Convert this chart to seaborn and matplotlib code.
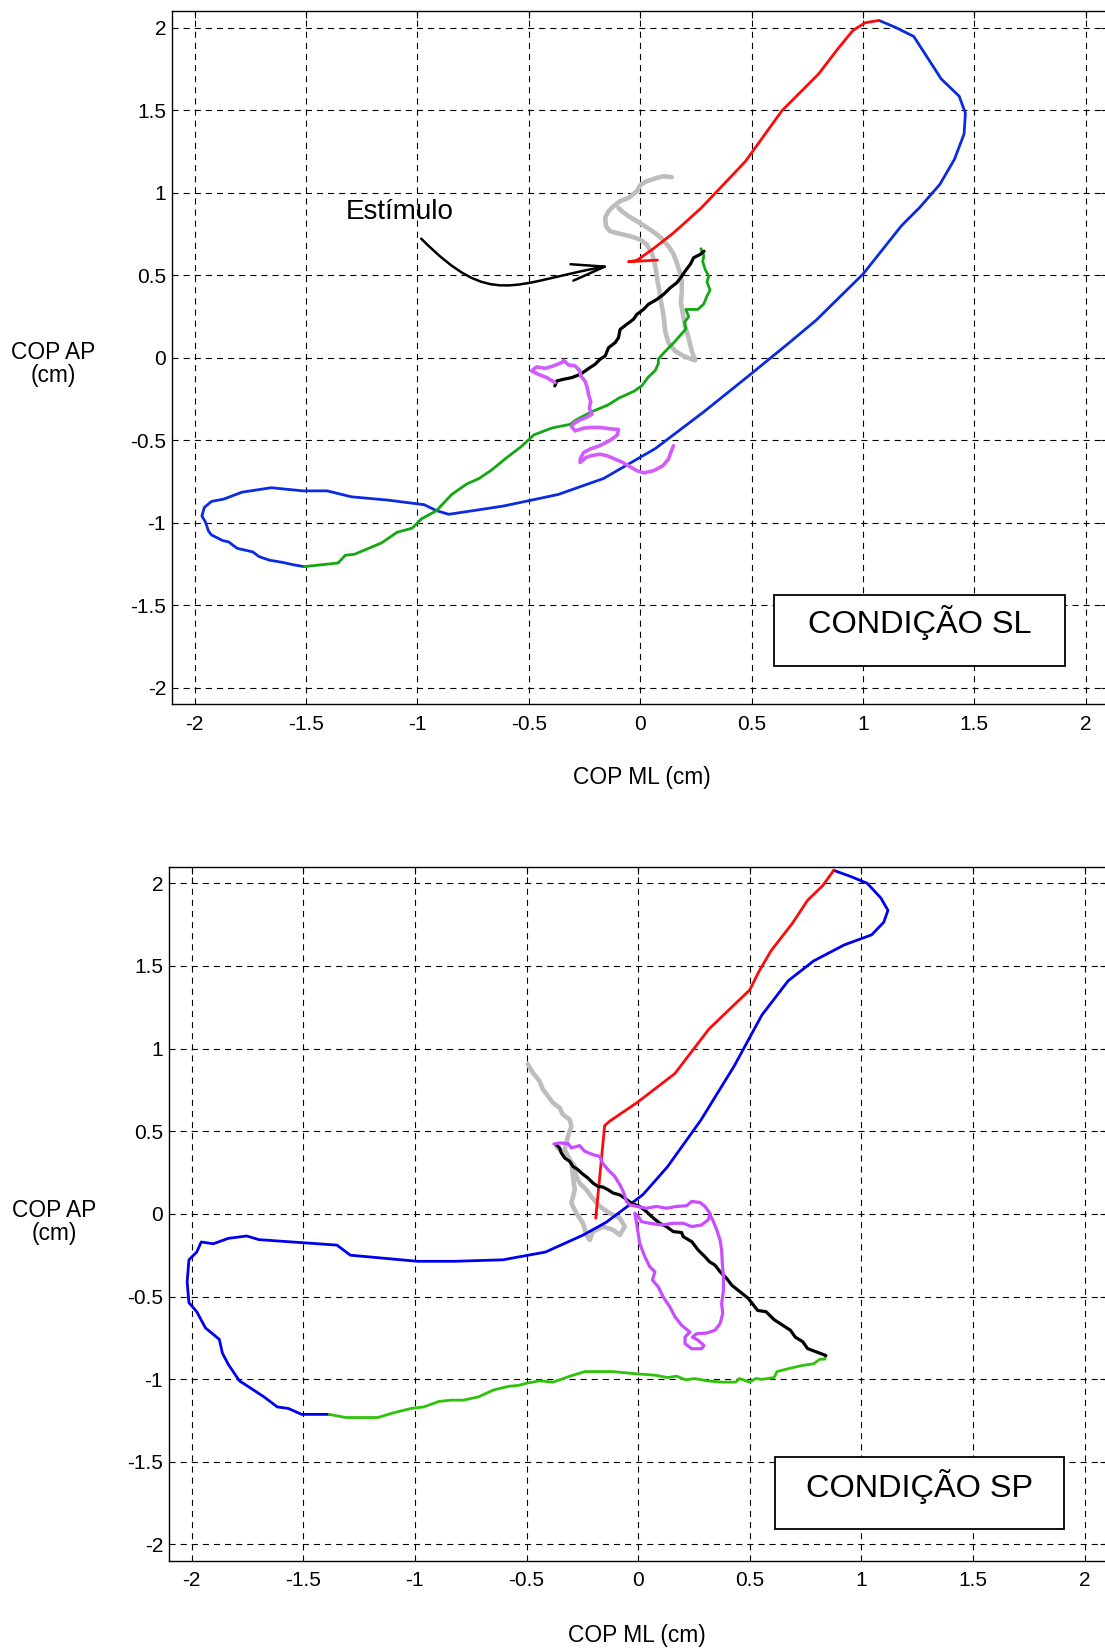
import numpy as np
import pandas as pd
import matplotlib
matplotlib.use("Agg")
import matplotlib.pyplot as plt
from matplotlib.patches import Rectangle, FancyArrowPatch
from matplotlib.path import Path
import seaborn as sns

# ---------------- data: top panel (CONDIÇÃO SL) ----------------
sl_gray_x = [0.142, 0.105, 0.075, 0.030, 0.0, -0.015, -0.052, -0.090, -0.120, -0.142, -0.157, -0.153,
             -0.135, -0.090, -0.045, 0.0, 0.030, 0.052, 0.063, 0.072, 0.078, 0.087, 0.093, 0.102, 0.108,
             0.112, 0.127, 0.157, 0.195, 0.232, 0.247, 0.232, 0.217, 0.202, 0.192, 0.183, 0.187, 0.187,
             0.177, 0.162, 0.147, 0.127, 0.097, 0.060, 0.022, -0.015, -0.052, -0.082, -0.097]
sl_gray_y = [1.093, 1.099, 1.089, 1.069, 1.044, 1.008, 0.968, 0.948, 0.917, 0.887, 0.847, 0.796,
             0.766, 0.750, 0.736, 0.716, 0.685, 0.635, 0.585, 0.524, 0.464, 0.403, 0.343, 0.282, 0.222,
             0.161, 0.091, 0.040, 0.010, -0.010, -0.016, 0.040, 0.121, 0.192, 0.262, 0.333, 0.403, 0.464,
             0.524, 0.585, 0.635, 0.675, 0.722, 0.762, 0.796, 0.827, 0.857, 0.887, 0.907]

sl_red_x = [0.078, -0.052, -0.015, 0.060, 0.150, 0.273, 0.472, 0.636, 0.800, 0.887, 0.955, 1.010, 1.072]
sl_red_y = [0.591, 0.581, 0.589, 0.661, 0.756, 0.905, 1.188, 1.495, 1.717, 1.870, 1.982, 2.029, 2.043]

sl_blue_x = [1.072, 1.146, 1.228, 1.291, 1.351, 1.432, 1.460, 1.454, 1.411, 1.345, 1.255, 1.173, 1.001,
             0.791, 0.668, 0.491, 0.286, 0.068, -0.164, -0.368, -0.614, -0.750, -0.859, -0.914, -0.969,
             -1.132, -1.296, -1.405, -1.514, -1.656, -1.787, -1.869, -1.924, -1.956, -1.967, -1.951,
             -1.937, -1.924, -1.874, -1.847, -1.809, -1.738, -1.711, -1.664, -1.610, -1.555, -1.509]
sl_blue_y = [2.043, 2.001, 1.946, 1.815, 1.689, 1.584, 1.481, 1.355, 1.202, 1.049, 0.910, 0.799, 0.507,
             0.228, 0.089, -0.106, -0.328, -0.551, -0.732, -0.829, -0.899, -0.927, -0.949, -0.927, -0.891,
             -0.863, -0.843, -0.807, -0.807, -0.788, -0.815, -0.857, -0.871, -0.907, -0.960, -0.996,
             -1.052, -1.074, -1.108, -1.116, -1.155, -1.177, -1.205, -1.227, -1.239, -1.255, -1.266]

sl_green_x = [-1.509, -1.356, -1.323, -1.282, -1.160, -1.091, -1.023, -0.982, -0.914, -0.846, -0.778,
              -0.723, -0.668, -0.600, -0.532, -0.477, -0.396, -0.314, -0.286, -0.218, -0.145, -0.095,
              -0.027, 0.008, 0.035, 0.068, 0.082, 0.082, 0.109, 0.150, 0.205, 0.199, 0.218, 0.205, 0.259,
              0.286, 0.300, 0.314, 0.300, 0.308, 0.292, 0.281, 0.286, 0.273]
sl_green_y = [-1.266, -1.244, -1.197, -1.191, -1.122, -1.058, -1.033, -0.977, -0.927, -0.829, -0.765,
              -0.732, -0.682, -0.607, -0.537, -0.468, -0.426, -0.404, -0.376, -0.328, -0.287, -0.245,
              -0.203, -0.170, -0.120, -0.078, -0.036, -0.008, 0.033, 0.089, 0.173, 0.214, 0.248, 0.292,
              0.292, 0.326, 0.373, 0.409, 0.459, 0.493, 0.534, 0.582, 0.618, 0.660]

sl_black_x = [0.287, 0.269, 0.240, 0.225, 0.202, 0.187, 0.165, 0.135, 0.105, 0.075, 0.037, 0.015,
              -0.015, -0.030, -0.060, -0.090, -0.097, -0.112, -0.142, -0.157, -0.180, -0.202, -0.225,
              -0.247, -0.269, -0.307, -0.344, -0.374, -0.383]
sl_black_y = [0.645, 0.625, 0.605, 0.565, 0.524, 0.494, 0.454, 0.423, 0.383, 0.353, 0.323, 0.292,
              0.262, 0.232, 0.202, 0.171, 0.121, 0.091, 0.060, 0.010, -0.010, -0.040, -0.060,
              -0.081, -0.101, -0.121, -0.131, -0.141, -0.171]

sl_magenta_x = [-0.382, -0.419, -0.457, -0.487, -0.464, -0.427, -0.389, -0.352, -0.344, -0.322, -0.292,
                -0.272, -0.266, -0.246, -0.237, -0.231, -0.222, -0.228, -0.216, -0.243, -0.272, -0.296,
                -0.308, -0.292, -0.254, -0.217, -0.180, -0.135, -0.097, -0.102, -0.127, -0.153, -0.183,
                -0.225, -0.254, -0.269, -0.269, -0.243, -0.217, -0.180, -0.147, -0.112, -0.078, -0.045,
                -0.015, 0.018, 0.060, 0.102, 0.127, 0.139, 0.150]
sl_magenta_y = [-0.151, -0.121, -0.101, -0.081, -0.056, -0.065, -0.050, -0.030, -0.016, -0.044, -0.050,
                -0.077, -0.111, -0.145, -0.185, -0.226, -0.266, -0.306, -0.343, -0.363, -0.379, -0.397,
                -0.417, -0.444, -0.427, -0.423, -0.423, -0.431, -0.435, -0.468, -0.494, -0.514, -0.534,
                -0.554, -0.575, -0.615, -0.635, -0.605, -0.593, -0.585, -0.595, -0.615, -0.635, -0.661,
                -0.685, -0.698, -0.685, -0.655, -0.615, -0.569, -0.534]

# ---------------- data: bottom panel (CONDIÇÃO SP) ----------------
sp_gray_x = [-0.494, -0.472, -0.442, -0.427, -0.404, -0.382, -0.352, -0.337, -0.307, -0.299, -0.314,
             -0.329, -0.299, -0.292, -0.284, -0.299, -0.277, -0.247, -0.232, -0.217, -0.202, -0.157,
             -0.112, -0.082, -0.060, -0.082, -0.127, -0.172, -0.210, -0.232, -0.262, -0.277, -0.284,
             -0.307, -0.329, -0.352, -0.367]
sp_gray_y = [0.905, 0.854, 0.804, 0.753, 0.713, 0.672, 0.642, 0.601, 0.571, 0.530, 0.470,
             0.389, 0.308, 0.227, 0.146, 0.065, 0.004, -0.057, -0.128, -0.158, -0.107, -0.077,
             -0.097, -0.128, -0.077, -0.026, 0.004, 0.045, 0.105, 0.146, 0.186, 0.227, 0.288,
             0.328, 0.368, 0.389, 0.409]

sp_red_x = [-0.190, -0.150, -0.127, -0.005, 0.164, 0.317, 0.500, 0.541, 0.595, 0.691, 0.759, 0.827, 0.876]
sp_red_y = [-0.026, 0.534, 0.561, 0.673, 0.848, 1.118, 1.355, 1.466, 1.591, 1.758, 1.897, 1.986, 2.078]

sp_blue_x = [0.876, 0.950, 1.026, 1.087, 1.119, 1.100, 1.046, 0.923, 0.786, 0.672, 0.554, 0.431, 0.281,
             0.131, 0.022, -0.060, -0.142, -0.246, -0.415, -0.606, -0.824, -0.988, -1.289, -1.349,
             -1.698, -1.753, -1.835, -1.903, -1.957, -1.977, -2.012, -2.020, -2.012, -1.977, -1.938,
             -1.876, -1.862, -1.835, -1.786, -1.739, -1.676, -1.616, -1.567, -1.507, -1.384]
sp_blue_y = [2.078, 2.042, 2.000, 1.911, 1.836, 1.764, 1.688, 1.627, 1.530, 1.410, 1.202, 0.896, 0.567,
             0.284, 0.117, 0.033, -0.050, -0.128, -0.231, -0.278, -0.287, -0.287, -0.250, -0.189,
             -0.156, -0.134, -0.148, -0.181, -0.170, -0.231, -0.278, -0.412, -0.537, -0.592, -0.690,
             -0.759, -0.843, -0.912, -1.010, -1.051, -1.107, -1.168, -1.177, -1.213, -1.213]

sp_green_x = [-1.384, -1.310, -1.166, -1.097, -1.016, -0.961, -0.893, -0.838, -0.784, -0.715, -0.647,
              -0.579, -0.538, -0.497, -0.442, -0.382, -0.306, -0.238, -0.115, -0.005, 0.076, 0.131,
              0.172, 0.213, 0.254, 0.308, 0.377, 0.437, 0.453, 0.500, 0.527, 0.554, 0.609, 0.622,
              0.677, 0.732, 0.786, 0.814, 0.835, 0.841]
sp_green_y = [-1.213, -1.232, -1.232, -1.204, -1.177, -1.168, -1.135, -1.127, -1.127, -1.107, -1.065,
              -1.043, -1.038, -1.024, -1.010, -1.018, -0.982, -0.954, -0.954, -0.968, -0.976, -0.990,
              -0.982, -1.004, -0.996, -1.010, -1.018, -1.018, -0.996, -1.018, -0.996, -1.001, -0.990,
              -0.954, -0.935, -0.918, -0.907, -0.879, -0.879, -0.857]

sp_black_x = [0.841, 0.814, 0.759, 0.737, 0.704, 0.682, 0.650, 0.609, 0.573, 0.535, 0.494, 0.457,
              0.419, 0.397, 0.367, 0.344, 0.319, 0.299, 0.269, 0.240, 0.202, 0.195, 0.157, 0.127,
              0.097, 0.060, 0.037, 0.007, -0.030, -0.060, -0.082, -0.112, -0.135, -0.157, -0.180,
              -0.202, -0.225, -0.254, -0.269, -0.292, -0.307, -0.329, -0.344, -0.352, -0.367]
sp_black_y = [-0.857, -0.843, -0.815, -0.773, -0.746, -0.704, -0.676, -0.640, -0.592, -0.584, -0.512,
              -0.472, -0.431, -0.391, -0.350, -0.310, -0.289, -0.259, -0.219, -0.168, -0.138, -0.113,
              -0.107, -0.077, -0.057, -0.016, 0.014, 0.045, 0.065, 0.095, 0.115, 0.126, 0.146,
              0.162, 0.166, 0.186, 0.217, 0.247, 0.267, 0.287, 0.318, 0.338, 0.368, 0.399, 0.419]

sp_magenta_x = [-0.377, -0.352, -0.314, -0.299, -0.262, -0.240, -0.202, -0.172, -0.160, -0.135, -0.105,
                -0.082, -0.067, -0.052, -0.037, -0.007, 0.037, 0.082, 0.127, 0.172, 0.217, 0.240,
                0.277, 0.299, 0.322, 0.314, 0.284, 0.240, 0.202, 0.157, 0.105, 0.052, 0.015, 0.0,
                -0.015, -0.007, 0.0, 0.007, 0.030, 0.052, 0.075, 0.064, 0.090, 0.112, 0.142, 0.165,
                0.195, 0.232, 0.210, 0.210, 0.240, 0.284, 0.295, 0.269, 0.243, 0.262, 0.307, 0.344,
                0.367, 0.379, 0.374, 0.382, 0.382, 0.377, 0.374, 0.367, 0.352, 0.337, 0.322]
sp_magenta_y = [0.423, 0.429, 0.425, 0.399, 0.413, 0.379, 0.358, 0.348, 0.308, 0.267, 0.227,
                0.176, 0.136, 0.075, 0.055, 0.045, 0.034, 0.045, 0.034, 0.045, 0.049, 0.075,
                0.069, 0.045, 0.004, -0.036, -0.067, -0.077, -0.057, -0.057, -0.067, -0.057, -0.047, -0.016,
                0.004, -0.057, -0.117, -0.178, -0.259, -0.320, -0.350, -0.401, -0.441, -0.502, -0.563, -0.623,
                -0.674, -0.715, -0.745, -0.785, -0.816, -0.816, -0.796, -0.765, -0.745, -0.725, -0.721, -0.704,
                -0.664, -0.603, -0.543, -0.462, -0.381, -0.300, -0.219, -0.158, -0.097, -0.047, -0.006]

tick_values = [-2, -1.5, -1, -0.5, 0, 0.5, 1, 1.5, 2]
tick_labels = ["-2", "-1.5", "-1", "-0.5", "0", "0.5", "1", "1.5", "2"]

x_label = "COP ML (cm)"
y_label = "COP AP\n(cm)"
panel_titles = ["CONDIÇÃO SL", "CONDIÇÃO SP"]
stimulus_label = "Estímulo"

# ---------------- styling ----------------
sns.set_theme(style="white")
plt.rcParams["font.family"] = ["Liberation Sans", "DejaVu Sans"]
plt.rcParams["axes.unicode_minus"] = False

fig = plt.figure(figsize=(11.05, 16.52), dpi=100)
ax_top = fig.add_axes([0.1559, 0.57367, 0.8468, 0.41967])
ax_bot = fig.add_axes([0.1532, 0.05508, 0.8486, 0.42027])

colors_top = {"gray": "#bdbdbd", "blue": "#0a2be0", "red": "#ff0a0a",
              "green": "#13a813", "black": "#000000", "magenta": "#d35cff"}
colors_bot = {"gray": "#bdbdbd", "blue": "#0000f0", "red": "#ff0a0a",
              "green": "#2ec30a", "black": "#000000", "magenta": "#c84dff"}


def draw_path(ax, xs, ys, color, lw=2.0):
    df = pd.DataFrame({"x": xs, "y": ys})
    sns.lineplot(data=df, x="x", y="y", sort=False, estimator=None, color=color,
                 linewidth=lw, ax=ax, zorder=3)


def style_axes(ax):
    ax.set_xlim(-2.1, 2.1)
    ax.set_ylim(-2.1, 2.1)
    ax.set_xticks(tick_values)
    ax.set_xticklabels(tick_labels)
    ax.set_yticks(tick_values)
    ax.set_yticklabels(tick_labels)
    ax.tick_params(axis="both", direction="in", length=5, width=0.8, color="black",
                   labelsize=15, labelcolor="black", top=True, right=True)
    ax.tick_params(axis="x", pad=7.5)
    ax.tick_params(axis="y", pad=4.5)
    ax.grid(True, color="black", linestyle=(0, (5.5, 4.5)), linewidth=0.8, zorder=0)
    ax.set_axisbelow(True)
    for sp in ax.spines.values():
        sp.set_visible(True)
        sp.set_color("black")
        sp.set_linewidth(1.0)
    ax.set_xlabel(x_label, fontsize=16.4, color="black")
    ax.set_ylabel(y_label, fontsize=16.4, color="black", rotation=0,
                  ha="center", va="center", multialignment="center", linespacing=1.0)


# top panel
draw_path(ax_top, sl_gray_x, sl_gray_y, colors_top["gray"], lw=3.3)
draw_path(ax_top, sl_blue_x, sl_blue_y, colors_top["blue"])
draw_path(ax_top, sl_red_x, sl_red_y, colors_top["red"])
draw_path(ax_top, sl_green_x, sl_green_y, colors_top["green"])
draw_path(ax_top, sl_black_x, sl_black_y, colors_top["black"], lw=2.3)
draw_path(ax_top, sl_magenta_x, sl_magenta_y, colors_top["magenta"], lw=2.6)
style_axes(ax_top)
ax_top.xaxis.set_label_coords(0.5017, -0.1059)
ax_top.xaxis.label.set_va("center")
ax_top.yaxis.set_label_coords(-0.1275, 0.4908)

# bottom panel
draw_path(ax_bot, sp_gray_x, sp_gray_y, colors_bot["gray"], lw=3.3)
draw_path(ax_bot, sp_blue_x, sp_blue_y, colors_bot["blue"])
draw_path(ax_bot, sp_red_x, sp_red_y, colors_bot["red"])
draw_path(ax_bot, sp_green_x, sp_green_y, colors_bot["green"])
draw_path(ax_bot, sp_black_x, sp_black_y, colors_bot["black"], lw=2.3)
draw_path(ax_bot, sp_magenta_x, sp_magenta_y, colors_bot["magenta"], lw=2.3)
style_axes(ax_bot)
ax_bot.xaxis.set_label_coords(0.499, -0.1066)
ax_bot.xaxis.label.set_va("center")
ax_bot.yaxis.set_label_coords(-0.123, 0.488)

# condition boxes
for ax, title, (x0, x1, y0, y1, ty) in [
        (ax_top, panel_titles[0], (0.601, 1.907, -1.870, -1.435, -1.603)),
        (ax_bot, panel_titles[1], (0.614, 1.906, -1.907, -1.470, -1.648))]:
    ax.add_patch(Rectangle((x0, y0), x1 - x0, y1 - y0, facecolor="white",
                           edgecolor="black", linewidth=1.3, zorder=5))
    ax.text((x0 + x1) / 2, ty, title, ha="center", va="center", fontsize=23.4,
            color="black", zorder=6)

# stimulus annotation (top panel)
ax_top.text(-1.081, 0.883, stimulus_label, ha="center", va="center", fontsize=20, color="black",
            zorder=6)
arrow_path = Path([(-0.9827, 0.721), (-0.6655, 0.2912), (-0.578, 0.451), (-0.136, 0.557)],
                  [Path.MOVETO, Path.CURVE4, Path.CURVE4, Path.CURVE4])
arrow = FancyArrowPatch(path=arrow_path, arrowstyle="->,head_length=1.2,head_width=0.3",
                        mutation_scale=20, linewidth=1.8, color="black", zorder=6)
ax_top.add_patch(arrow)

fig.savefig("out.png", dpi=100)
